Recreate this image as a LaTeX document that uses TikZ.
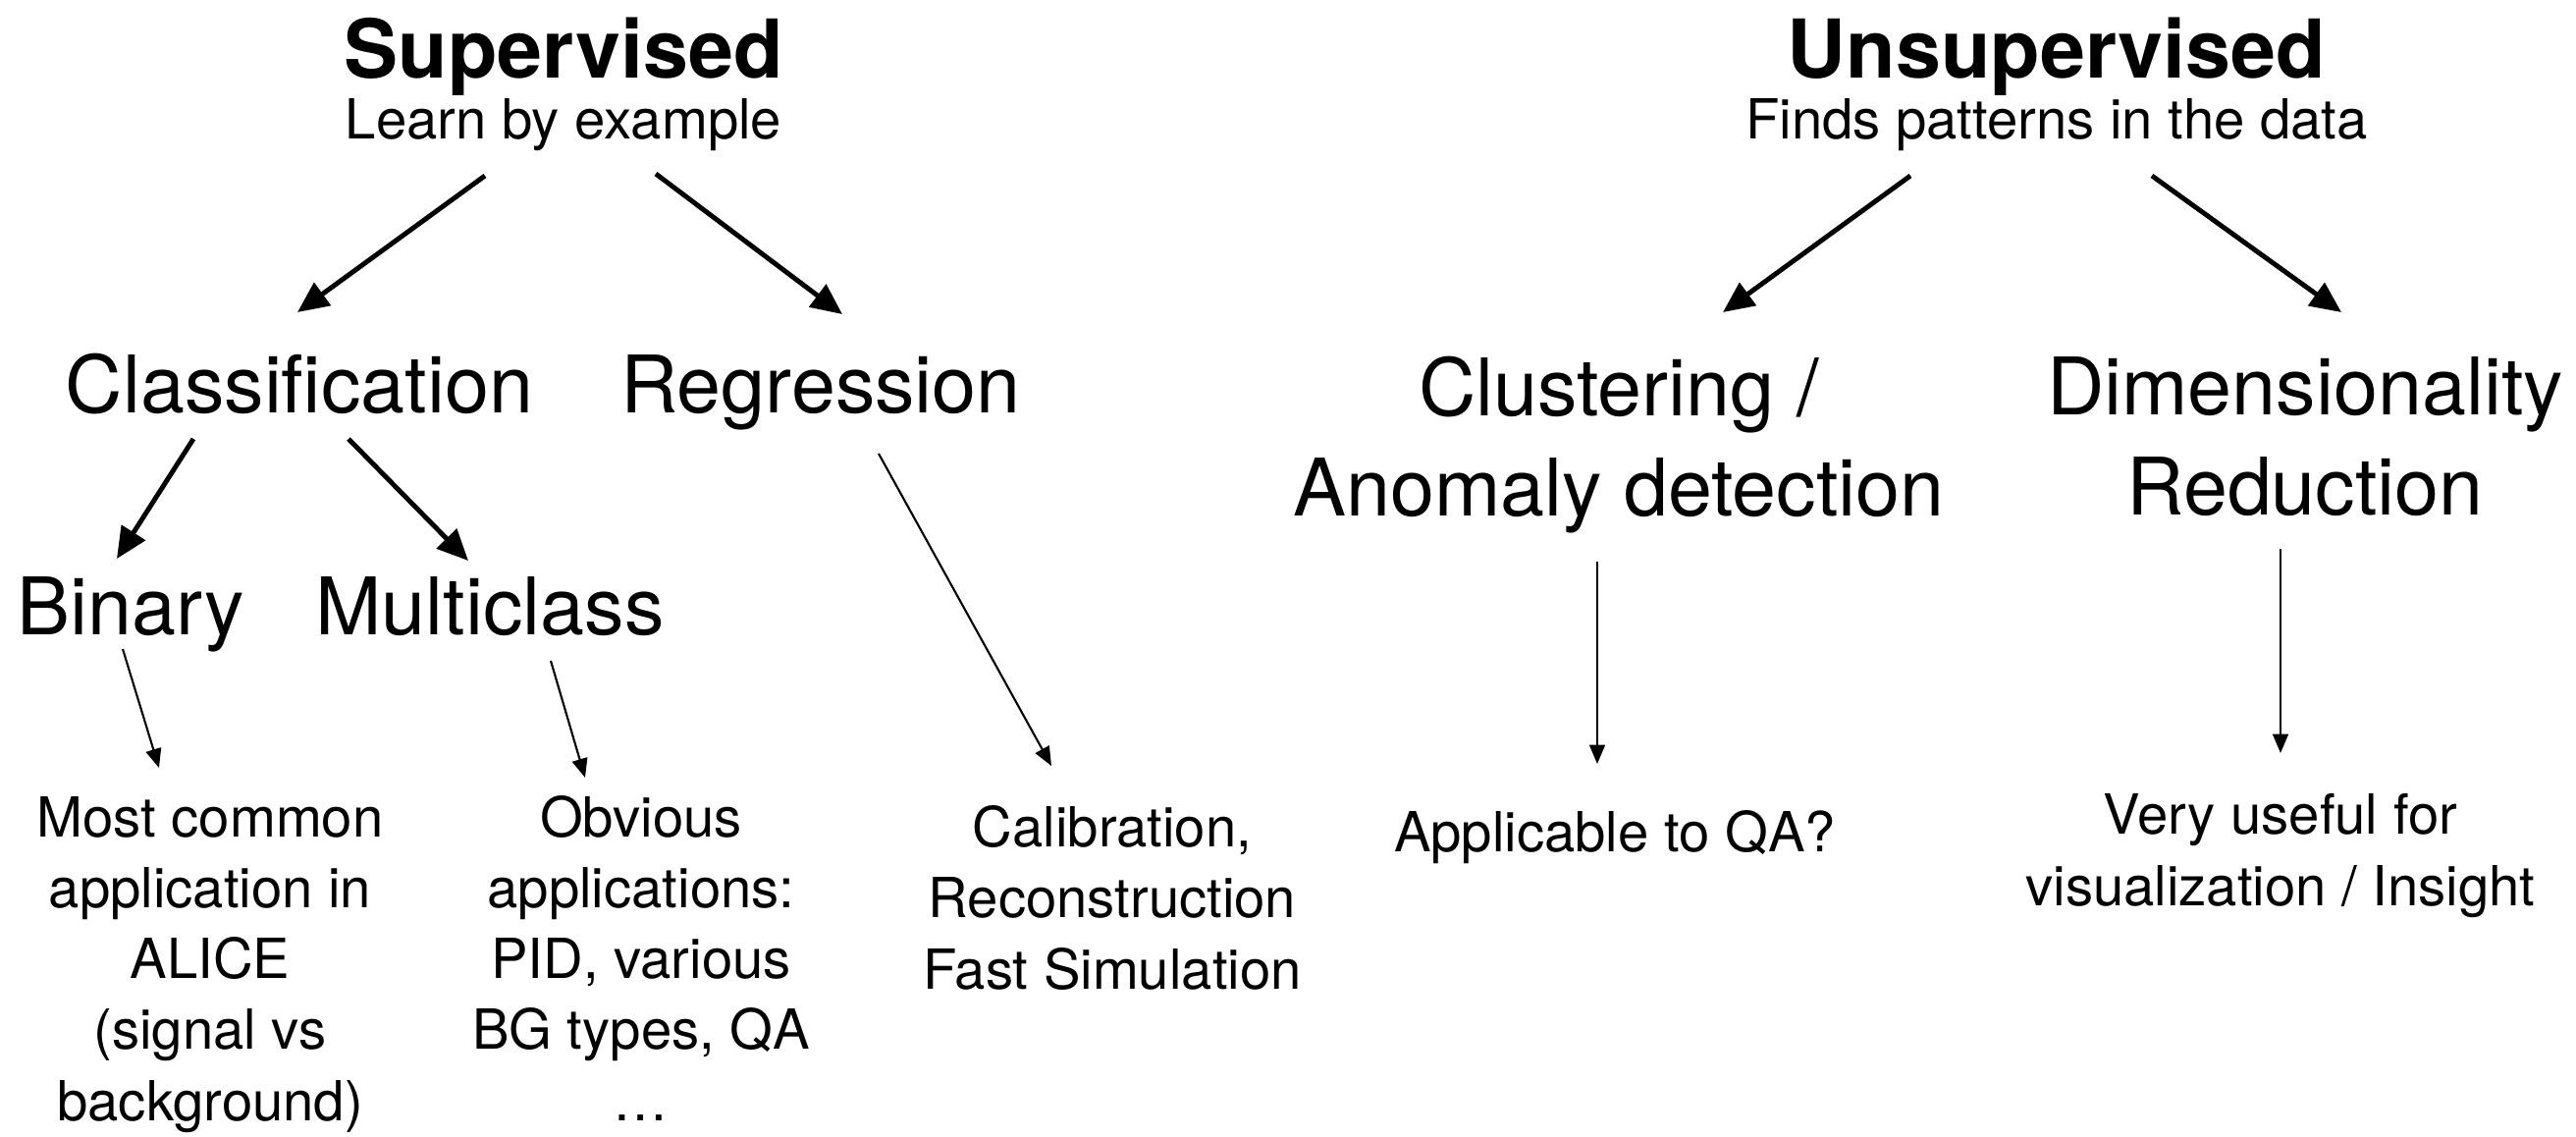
\documentclass[tikz,border=0pt]{standalone}
\usepackage{fontspec}
\setmainfont{TeX Gyre Heros}
\usetikzlibrary{arrows.meta}
\begin{document}
\begin{tikzpicture}[x=0.01cm, y=-0.01cm,
  title/.style={font=\fontsize{23.5}{28}\selectfont\bfseries, anchor=base, inner sep=0pt},
  subtitle/.style={font=\fontsize{16}{20.5}\selectfont, anchor=base, inner sep=0pt},
  topic/.style={font=\fontsize{23}{29}\selectfont, anchor=base, inner sep=0pt, align=center},
  note/.style={font=\fontsize{16}{20.5}\selectfont, anchor=base, inner sep=0pt, align=center},
  bigarrow/.style={line width=1.4pt, -{Triangle[length=9pt, width=8pt]}},
  thinarrow/.style={line width=0.6pt, -{Triangle[length=5.5pt, width=4.5pt]}}]
\useasboundingbox (0,0) rectangle (2624,1157);

% headings (base anchor: baseline of the text)
\node[title] (sup) at (574,79) {Supervised};
\node[subtitle] (supsub) at (574,141) {Learn by example};
\node[title] (uns) at (2095,79) {Unsupervised};
\node[subtitle] (unssub) at (2095,141) {Finds patterns in the data};

% second level (multi-line nodes: base anchor sits on the last line)
\node[topic] (cls) at (305,420) {Classification};
\node[topic] (reg) at (836,420) {Regression};
\node[topic] (clu) at (1649,525) {Clustering /\\Anomaly detection};
\node[topic] (dim) at (2348,524) {Dimensionality\\Reduction};

% third level
\node[topic] (bin) at (133,646) {Binary};
\node[topic] (mul) at (499,646) {Multiclass};

% applications
\node[note] (binapp) at (214,1141) {Most common\\application in\\ALICE\\(signal vs\\background)};
\node[note] (mulapp) at (653,1141) {Obvious\\applications:\\PID, various\\BG types, QA\\…};
\node[note] (regapp) at (1133,1007) {Calibration,\\Reconstruction\\Fast Simulation};
\node[note] (cluapp) at (1645,867) {Applicable to QA?};
\node[note] (dimapp) at (2323,922) {Very useful for\\visualization / Insight};

% arrow end points
\coordinate (supL) at (494,179);  \coordinate (clsT) at (303,318);
\coordinate (supR) at (668,177);  \coordinate (regT) at (858,320);
\coordinate (unsL) at (1946,179); \coordinate (cluT) at (1755,318);
\coordinate (unsR) at (2192,179); \coordinate (dimT) at (2385,318);
\coordinate (clsL) at (197,447);  \coordinate (binT) at (119,569);
\coordinate (clsR) at (355,447);  \coordinate (mulT) at (477,571);
\coordinate (binB) at (125,661);  \coordinate (binappT) at (162,782);
\coordinate (mulB) at (561,673);  \coordinate (mulappT) at (596,792);
\coordinate (regB) at (895,462);  \coordinate (regappT) at (1071,780);
\coordinate (cluB) at (1627,572); \coordinate (cluappT) at (1627,778);
\coordinate (dimB) at (2323,559); \coordinate (dimappT) at (2323,767);

\draw[bigarrow] (supL) -- (clsT);
\draw[bigarrow] (supR) -- (regT);
\draw[bigarrow] (unsL) -- (cluT);
\draw[bigarrow] (unsR) -- (dimT);
\draw[bigarrow] (clsL) -- (binT);
\draw[bigarrow] (clsR) -- (mulT);

\draw[thinarrow] (binB) -- (binappT);
\draw[thinarrow] (mulB) -- (mulappT);
\draw[thinarrow] (regB) -- (regappT);
\draw[thinarrow] (cluB) -- (cluappT);
\draw[thinarrow] (dimB) -- (dimappT);
\end{tikzpicture}
\end{document}
